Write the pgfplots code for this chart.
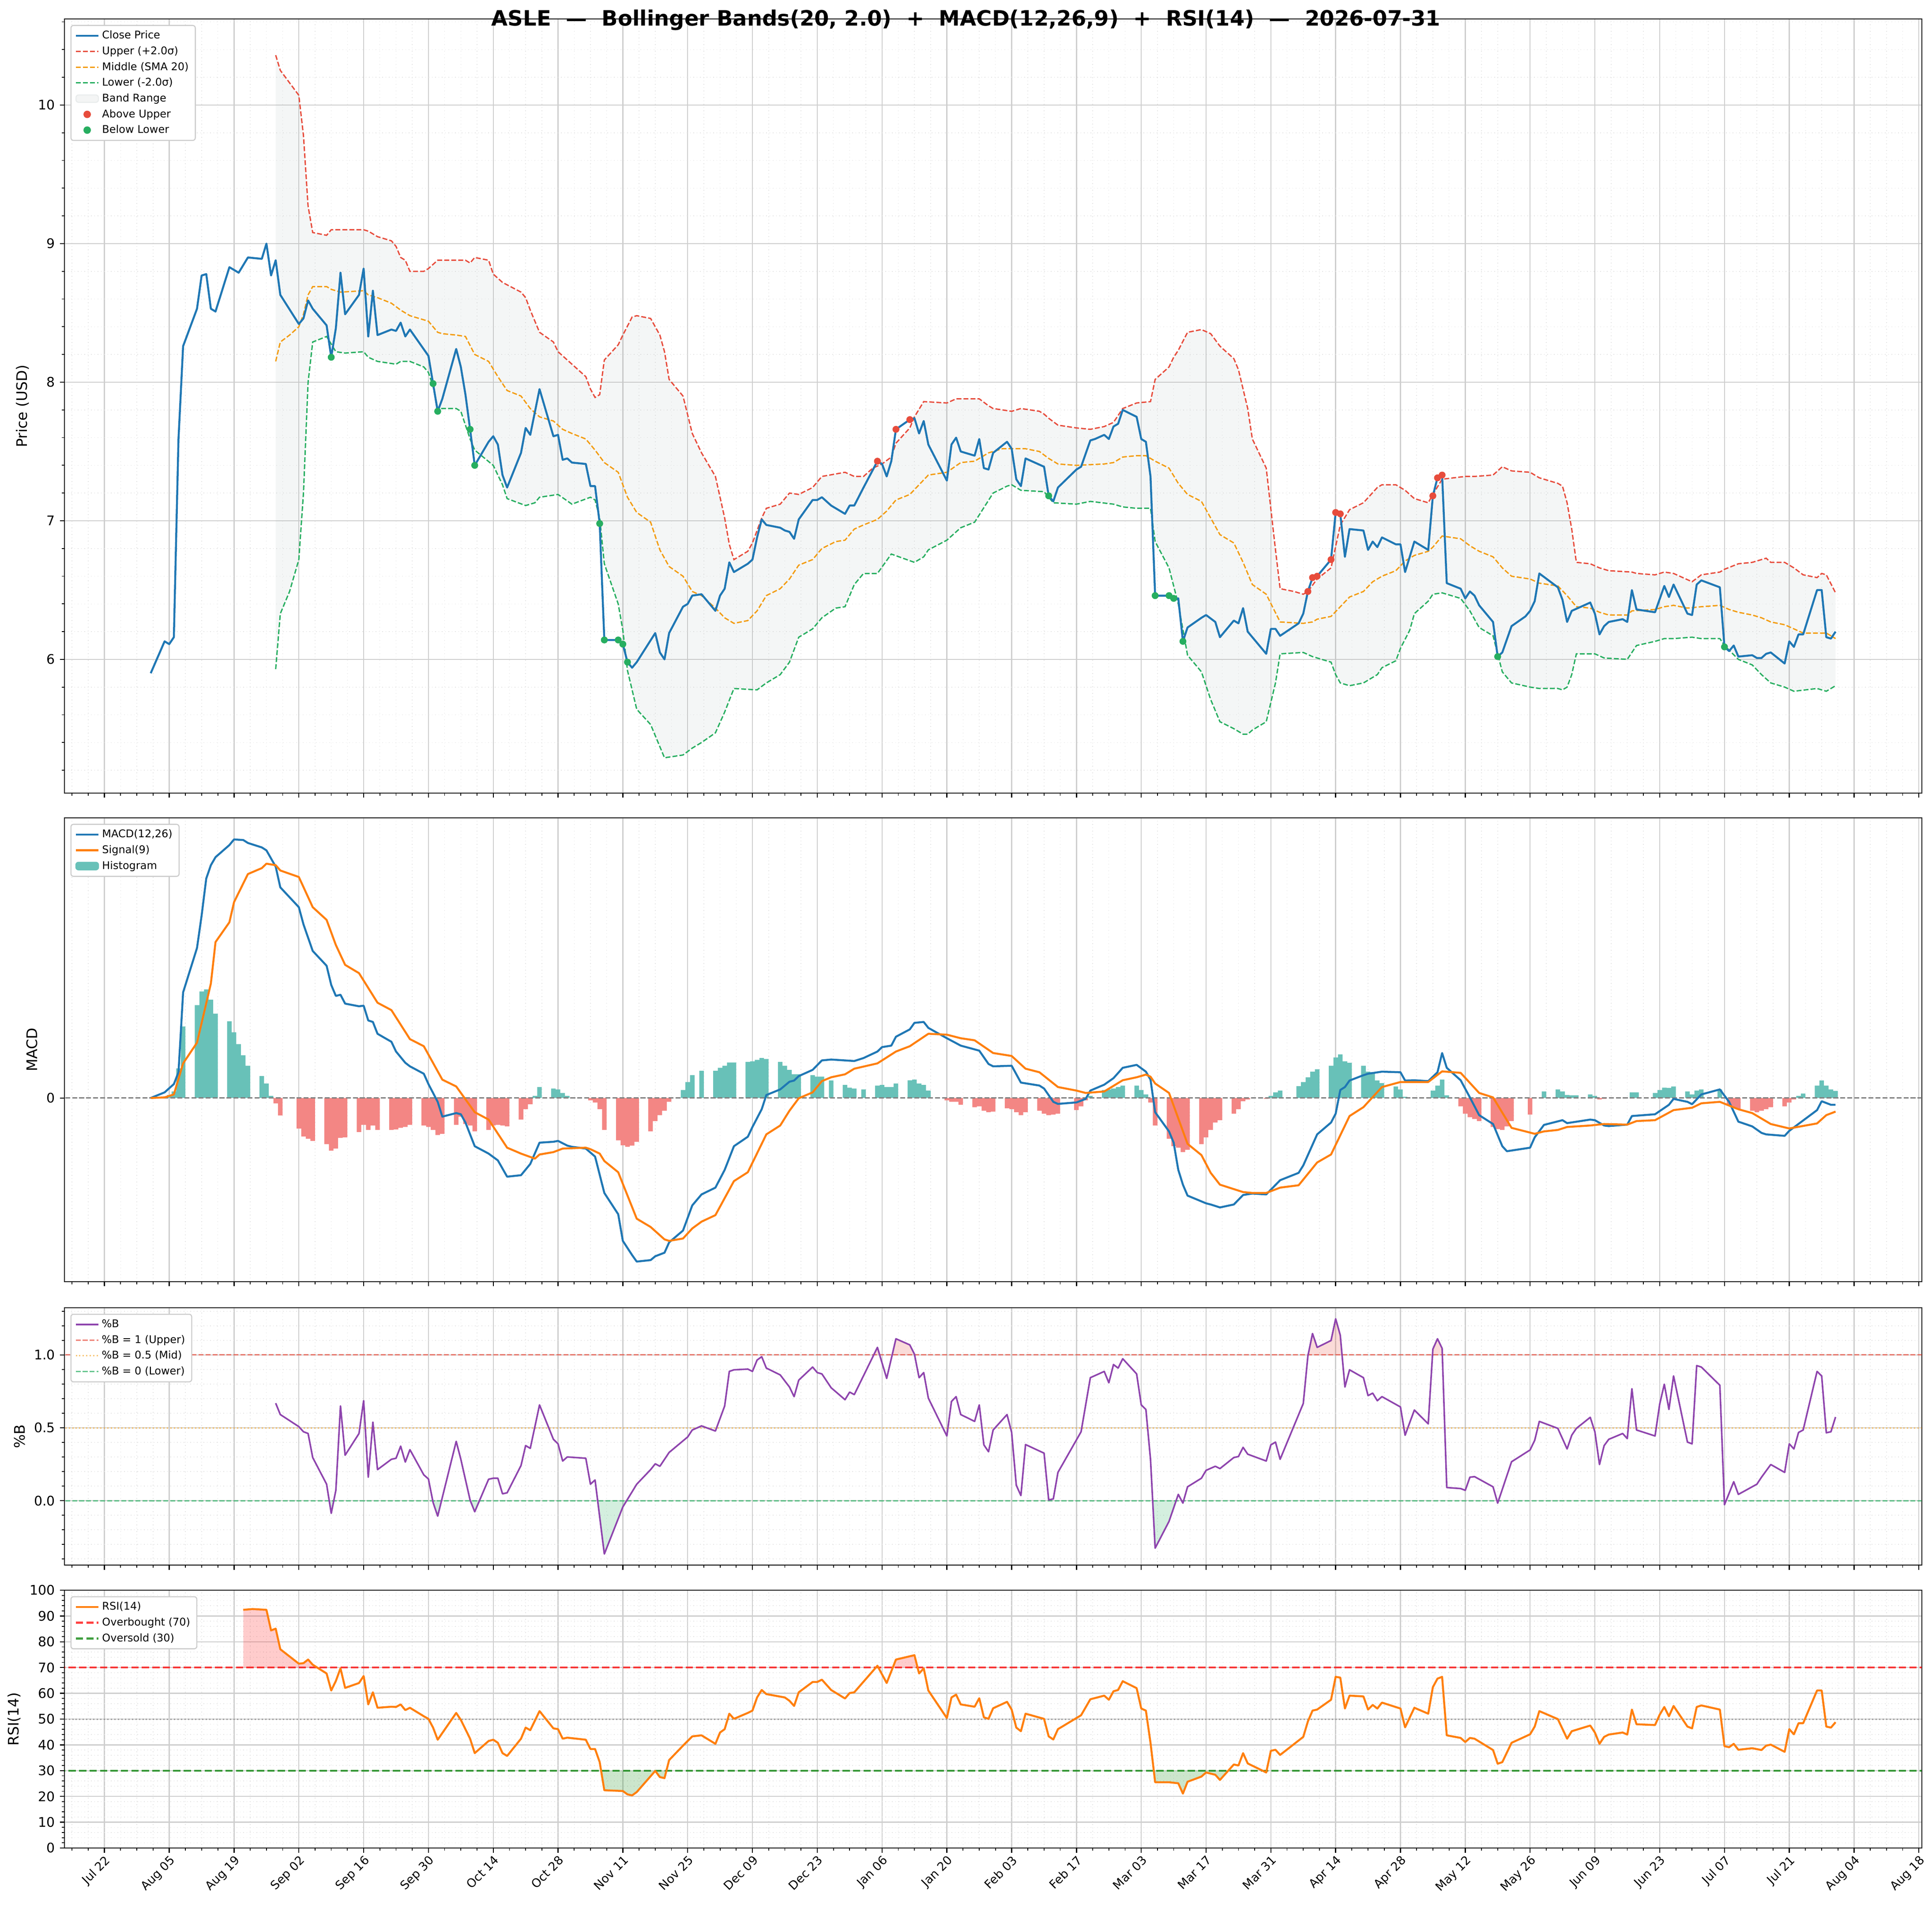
\documentclass[border=0pt]{standalone}
\usepackage{fontspec}
\setmainfont{DejaVu Sans}
\usepackage{pgfplots}
\usepackage{pgfplotstable}
\pgfplotsset{compat=1.18}
\usepgfplotslibrary{fillbetween}

\definecolor{cclose}{RGB}{31,119,180}
\definecolor{cupper}{RGB}{231,76,60}
\definecolor{cmid}{RGB}{243,156,18}
\definecolor{clower}{RGB}{39,174,96}
\definecolor{bandc}{RGB}{149,165,166}
\definecolor{csig}{RGB}{255,127,14}
\definecolor{chpos}{RGB}{104,193,184}
\definecolor{chneg}{RGB}{243,134,132}
\definecolor{cpb}{RGB}{142,68,173}
\definecolor{gmaj}{RGB}{206,206,206}
\definecolor{gmin}{RGB}{226,226,226}
\definecolor{legc}{RGB}{204,204,204}
\definecolor{cob}{RGB}{255,0,0}
\definecolor{cos}{RGB}{0,128,0}

\pgfplotstableread[row sep=\\]{x y\\
10 5.90\\13 6.13\\14 6.11\\15 6.16\\16 7.59\\17 8.26\\20 8.53\\21 8.77\\22 8.78\\23 8.53\\24 8.51\\27 8.83\\29 8.79\\31 8.90\\34 8.89\\35 9.00\\36 8.77\\37 8.88\\38 8.63\\42 8.42\\43 8.46\\44 8.59\\45 8.53\\48 8.41\\49 8.18\\50 8.39\\51 8.79\\52 8.49\\55 8.63\\56 8.82\\57 8.33\\58 8.66\\59 8.34\\62 8.38\\63 8.37\\64 8.43\\65 8.33\\66 8.38\\70 8.19\\71 7.99\\72 7.79\\73 7.88\\76 8.24\\77 8.11\\78 7.91\\79 7.66\\80 7.40\\83 7.57\\84 7.61\\85 7.55\\86 7.33\\87 7.24\\90 7.49\\91 7.67\\92 7.62\\94 7.95\\97 7.61\\98 7.62\\99 7.44\\100 7.45\\101 7.42\\104 7.41\\105 7.25\\106 7.25\\107 6.98\\108 6.14\\111 6.14\\112 6.11\\113 5.98\\114 5.94\\115 5.98\\119 6.19\\120 6.05\\121 6.00\\122 6.19\\125 6.38\\126 6.40\\127 6.46\\129 6.47\\132 6.35\\133 6.46\\134 6.51\\135 6.70\\136 6.63\\139 6.69\\140 6.72\\141 6.88\\142 7.01\\143 6.97\\146 6.95\\147 6.93\\148 6.92\\149 6.87\\150 7.01\\153 7.15\\154 7.15\\155 7.17\\157 7.11\\160 7.05\\161 7.11\\162 7.11\\164 7.24\\167 7.43\\168 7.41\\169 7.32\\170 7.43\\171 7.66\\174 7.73\\175 7.74\\176 7.63\\177 7.72\\178 7.55\\182 7.29\\183 7.55\\184 7.60\\185 7.50\\188 7.47\\189 7.59\\190 7.38\\191 7.37\\192 7.49\\195 7.57\\196 7.52\\197 7.30\\198 7.25\\199 7.45\\203 7.39\\204 7.18\\205 7.14\\206 7.24\\210 7.37\\211 7.39\\213 7.58\\214 7.59\\216 7.62\\217 7.59\\218 7.68\\219 7.70\\220 7.80\\223 7.75\\224 7.59\\225 7.57\\226 7.32\\227 6.46\\230 6.46\\231 6.44\\232 6.44\\233 6.13\\234 6.23\\237 6.30\\238 6.32\\240 6.27\\241 6.16\\244 6.28\\245 6.26\\246 6.37\\247 6.20\\251 6.04\\252 6.22\\253 6.22\\254 6.17\\258 6.26\\259 6.33\\260 6.49\\261 6.59\\262 6.60\\265 6.72\\266 7.06\\267 7.05\\268 6.74\\269 6.94\\272 6.93\\273 6.79\\274 6.85\\275 6.81\\276 6.88\\279 6.83\\280 6.83\\281 6.63\\283 6.85\\286 6.79\\287 7.18\\288 7.31\\289 7.33\\290 6.55\\293 6.51\\294 6.44\\295 6.49\\296 6.46\\297 6.39\\300 6.27\\301 6.02\\302 6.05\\304 6.24\\307 6.31\\308 6.35\\309 6.42\\310 6.62\\314 6.52\\315 6.43\\316 6.27\\317 6.35\\321 6.41\\322 6.33\\323 6.18\\324 6.24\\325 6.27\\328 6.29\\329 6.27\\330 6.50\\331 6.36\\335 6.34\\337 6.53\\338 6.45\\339 6.54\\342 6.33\\343 6.32\\344 6.54\\345 6.57\\349 6.52\\350 6.09\\351 6.06\\352 6.10\\353 6.02\\356 6.03\\357 6.01\\358 6.01\\359 6.04\\360 6.05\\363 5.97\\364 6.13\\365 6.09\\366 6.18\\367 6.18\\370 6.50\\371 6.50\\372 6.16\\373 6.15\\374 6.20\\
}\tclose

\pgfplotstableread[row sep=\\]{x y\\
37 10.36\\38 10.25\\40 10.16\\42 10.07\\43 9.78\\44 9.27\\45 9.08\\48 9.06\\49 9.10\\56 9.10\\57 9.09\\59 9.05\\62 9.02\\63 8.98\\64 8.90\\65 8.88\\66 8.80\\69 8.80\\70 8.82\\72 8.88\\76 8.88\\78 8.88\\79 8.86\\80 8.90\\83 8.88\\84 8.78\\86 8.72\\90 8.65\\91 8.61\\92 8.52\\94 8.36\\97 8.29\\98 8.22\\100 8.16\\101 8.13\\104 8.04\\105 7.95\\106 7.89\\107 7.91\\108 8.16\\111 8.27\\112 8.34\\114 8.47\\115 8.48\\118 8.46\\120 8.34\\121 8.22\\122 8.02\\125 7.90\\127 7.63\\129 7.49\\132 7.32\\134 7.02\\135 6.83\\136 6.72\\139 6.78\\140 6.84\\142 7.02\\143 7.09\\146 7.12\\148 7.20\\150 7.19\\153 7.24\\155 7.32\\160 7.35\\162 7.32\\164 7.32\\166 7.38\\168 7.41\\170 7.46\\171 7.56\\174 7.67\\175 7.75\\177 7.86\\182 7.85\\184 7.88\\189 7.88\\191 7.83\\192 7.81\\196 7.79\\198 7.81\\202 7.79\\203 7.77\\204 7.74\\206 7.69\\210 7.67\\213 7.66\\216 7.68\\218 7.71\\220 7.81\\223 7.85\\226 7.86\\227 8.02\\230 8.11\\231 8.18\\232 8.23\\234 8.36\\237 8.38\\239 8.35\\241 8.26\\244 8.17\\245 8.09\\247 7.81\\248 7.59\\251 7.38\\253 6.79\\254 6.51\\257 6.49\\259 6.47\\260 6.49\\262 6.58\\265 6.66\\267 6.97\\269 7.08\\272 7.13\\275 7.24\\276 7.26\\279 7.26\\281 7.22\\283 7.16\\286 7.13\\287 7.19\\289 7.30\\294 7.32\\296 7.32\\300 7.33\\302 7.39\\304 7.36\\308 7.35\\310 7.31\\314 7.27\\315 7.25\\316 7.13\\317 6.94\\318 6.70\\321 6.69\\323 6.66\\325 6.64\\330 6.63\\331 6.62\\335 6.61\\337 6.63\\339 6.62\\343 6.56\\345 6.61\\349 6.63\\350 6.65\\353 6.69\\356 6.70\\359 6.73\\360 6.70\\363 6.70\\365 6.66\\367 6.61\\370 6.59\\371 6.62\\372 6.61\\374 6.48\\
}\tupper

\pgfplotstableread[row sep=\\]{x y\\
37 8.15\\38 8.29\\40 8.34\\42 8.40\\43 8.49\\44 8.63\\45 8.69\\48 8.69\\49 8.67\\51 8.65\\56 8.66\\57 8.63\\59 8.61\\62 8.57\\64 8.52\\66 8.48\\70 8.44\\72 8.36\\73 8.35\\76 8.34\\78 8.33\\80 8.20\\83 8.15\\85 8.04\\87 7.94\\90 7.90\\92 7.81\\94 7.75\\97 7.72\\99 7.66\\101 7.63\\104 7.59\\106 7.51\\108 7.42\\111 7.35\\113 7.17\\115 7.06\\118 6.99\\120 6.79\\122 6.67\\125 6.60\\127 6.49\\129 6.46\\132 6.37\\134 6.30\\136 6.26\\139 6.28\\141 6.35\\143 6.46\\146 6.51\\148 6.58\\150 6.68\\153 6.72\\155 6.80\\158 6.85\\160 6.86\\162 6.94\\164 6.97\\167 7.01\\169 7.07\\171 7.15\\174 7.19\\176 7.26\\178 7.33\\182 7.35\\185 7.42\\188 7.43\\191 7.49\\194 7.52\\196 7.52\\199 7.52\\202 7.50\\204 7.45\\206 7.41\\210 7.40\\216 7.41\\218 7.42\\220 7.46\\223 7.47\\225 7.47\\227 7.43\\230 7.38\\232 7.27\\234 7.19\\237 7.14\\239 7.02\\241 6.90\\244 6.84\\246 6.70\\248 6.54\\251 6.47\\254 6.27\\259 6.26\\261 6.27\\262 6.29\\265 6.31\\267 6.38\\269 6.45\\272 6.49\\274 6.56\\276 6.60\\279 6.64\\281 6.71\\283 6.75\\286 6.78\\287 6.81\\289 6.89\\293 6.87\\295 6.82\\297 6.78\\300 6.74\\302 6.66\\304 6.60\\308 6.58\\310 6.55\\314 6.53\\316 6.46\\318 6.38\\321 6.37\\323 6.34\\325 6.32\\329 6.32\\330 6.35\\335 6.36\\337 6.38\\339 6.39\\342 6.37\\345 6.38\\349 6.39\\351 6.36\\353 6.34\\356 6.32\\358 6.30\\360 6.27\\363 6.25\\365 6.22\\367 6.19\\370 6.19\\372 6.19\\374 6.15\\
}\tmid

\pgfplotstableread[row sep=\\]{x y\\
37 5.93\\38 6.33\\40 6.49\\42 6.72\\43 7.20\\44 8.00\\45 8.29\\48 8.33\\50 8.22\\52 8.21\\56 8.22\\57 8.18\\59 8.15\\63 8.13\\64 8.15\\66 8.15\\69 8.11\\70 8.07\\71 7.97\\72 7.81\\76 7.81\\77 7.79\\79 7.59\\80 7.51\\84 7.40\\86 7.26\\87 7.16\\91 7.11\\93 7.13\\94 7.17\\98 7.19\\101 7.12\\105 7.17\\106 7.15\\107 7.02\\108 6.69\\111 6.40\\112 6.21\\113 5.92\\115 5.64\\118 5.53\\120 5.37\\121 5.29\\125 5.31\\127 5.36\\129 5.40\\132 5.47\\134 5.62\\136 5.79\\141 5.78\\143 5.83\\146 5.89\\148 5.98\\150 6.16\\153 6.22\\155 6.30\\158 6.37\\160 6.38\\162 6.54\\164 6.62\\167 6.62\\170 6.76\\175 6.70\\177 6.74\\178 6.79\\182 6.86\\185 6.95\\188 6.99\\192 7.20\\195 7.25\\196 7.26\\198 7.22\\203 7.21\\205 7.13\\210 7.12\\213 7.14\\218 7.12\\220 7.10\\223 7.09\\226 7.09\\227 6.85\\230 6.66\\232 6.40\\234 6.03\\237 5.91\\239 5.71\\241 5.55\\244 5.50\\246 5.46\\247 5.46\\248 5.49\\251 5.55\\253 5.83\\254 6.04\\259 6.05\\261 6.02\\265 5.98\\266 5.89\\267 5.83\\269 5.81\\272 5.83\\275 5.89\\276 5.94\\279 5.99\\280 6.08\\282 6.21\\283 6.33\\286 6.42\\287 6.47\\289 6.48\\293 6.44\\295 6.35\\297 6.23\\300 6.17\\302 5.91\\304 5.83\\308 5.80\\310 5.79\\314 5.79\\315 5.78\\316 5.80\\317 5.89\\318 6.04\\322 6.04\\324 6.01\\329 6.00\\331 6.10\\335 6.13\\337 6.15\\339 6.15\\343 6.16\\345 6.15\\349 6.15\\350 6.10\\353 6.00\\356 5.96\\358 5.89\\360 5.83\\363 5.80\\365 5.77\\370 5.79\\372 5.77\\374 5.81\\
}\tlower

\pgfplotstableread[row sep=\\]{x y\\
167 7.43\\171 7.66\\174 7.73\\260 6.49\\261 6.59\\262 6.60\\265 6.72\\266 7.06\\267 7.05\\287 7.18\\288 7.31\\289 7.33\\
}\tabove

\pgfplotstableread[row sep=\\]{x y\\
49 8.18\\71 7.99\\72 7.79\\79 7.66\\80 7.40\\107 6.98\\108 6.14\\111 6.14\\112 6.11\\113 5.98\\204 7.18\\227 6.46\\230 6.46\\231 6.44\\233 6.13\\301 6.02\\350 6.09\\
}\tbelow

\pgfplotstableread[row sep=\\]{x y\\
10 0\\13 0.0095\\15 0.0235\\16 0.0435\\17 0.1785\\20 0.2535\\21 0.3085\\22 0.371\\23 0.3935\\24 0.407\\27 0.4275\\28 0.437\\30 0.436\\31 0.431\\34 0.4235\\35 0.4185\\37 0.391\\38 0.356\\42 0.3225\\43 0.2935\\45 0.2485\\48 0.2235\\49 0.191\\50 0.1725\\51 0.1745\\52 0.1595\\55 0.155\\56 0.156\\57 0.131\\58 0.1285\\59 0.1085\\62 0.095\\63 0.0785\\65 0.0595\\66 0.0535\\69 0.041\\70 0.0235\\72 -0.0065\\73 -0.0315\\76 -0.0255\\77 -0.0275\\78 -0.0415\\80 -0.0815\\83 -0.094\\85 -0.1055\\87 -0.133\\90 -0.1305\\92 -0.1115\\94 -0.0755\\97 -0.074\\98 -0.0725\\100 -0.0805\\101 -0.0825\\104 -0.0855\\106 -0.099\\108 -0.1605\\111 -0.1965\\112 -0.2415\\114 -0.2655\\115 -0.2765\\118 -0.274\\119 -0.2675\\121 -0.2615\\122 -0.244\\125 -0.224\\127 -0.1815\\129 -0.163\\132 -0.1515\\134 -0.1215\\136 -0.0815\\139 -0.0655\\140 -0.049\\142 -0.019\\143 0.005\\146 0.0145\\148 0.0275\\149 0.0295\\150 0.037\\153 0.0475\\155 0.0635\\157 0.065\\162 0.0625\\164 0.0675\\167 0.0785\\168 0.086\\170 0.0885\\171 0.1035\\174 0.116\\175 0.127\\177 0.1285\\178 0.1185\\182 0.101\\185 0.0885\\189 0.08\\191 0.0575\\192 0.0535\\196 0.0545\\198 0.026\\202 0.021\\203 0.016\\205 -0.0065\\206 -0.01\\210 -0.0075\\212 -0.0015\\213 0.0125\\216 0.0225\\218 0.0335\\220 0.051\\223 0.056\\225 0.0445\\226 0.031\\227 -0.024\\230 -0.0565\\231 -0.0755\\232 -0.1215\\233 -0.1465\\234 -0.165\\238 -0.178\\239 -0.18\\241 -0.185\\244 -0.18\\246 -0.164\\248 -0.1615\\251 -0.163\\254 -0.139\\258 -0.1265\\259 -0.114\\262 -0.0615\\265 -0.0415\\266 -0.0265\\267 0.0135\\268 0.0185\\269 0.0295\\272 0.0385\\273 0.041\\276 0.0445\\280 0.0435\\281 0.0295\\283 0.03\\286 0.0285\\288 0.0435\\289 0.076\\290 0.051\\293 0.03\\295 0.001\\297 -0.029\\300 -0.044\\302 -0.0815\\303 -0.09\\308 -0.084\\309 -0.0665\\311 -0.0455\\315 -0.0375\\316 -0.0425\\321 -0.0365\\322 -0.0375\\324 -0.0465\\325 -0.0475\\329 -0.045\\330 -0.0305\\335 -0.0275\\338 -0.0115\\339 -0.0015\\342 -0.0065\\343 -0.0105\\345 0.006\\349 0.0145\\351 -0.0065\\353 -0.04\\356 -0.048\\358 -0.059\\359 -0.0615\\363 -0.064\\364 -0.0555\\370 -0.0205\\371 -0.0055\\373 -0.0115\\374 -0.0115\\
}\tmacd

\pgfplotstableread[row sep=\\]{x y\\
10 0\\13 0.001\\15 0.006\\17 0.0585\\20 0.0935\\23 0.1935\\24 0.2635\\27 0.297\\28 0.331\\31 0.3785\\34 0.3885\\35 0.396\\37 0.3935\\38 0.3845\\42 0.3735\\45 0.3225\\48 0.301\\50 0.2585\\52 0.225\\55 0.211\\59 0.161\\62 0.1485\\66 0.0995\\69 0.0875\\73 0.031\\76 0.0195\\80 -0.024\\83 -0.0365\\87 -0.084\\90 -0.094\\93 -0.1025\\94 -0.0955\\97 -0.0915\\99 -0.0855\\104 -0.084\\105 -0.0865\\107 -0.094\\108 -0.1065\\111 -0.1255\\115 -0.204\\118 -0.218\\121 -0.239\\122 -0.2415\\125 -0.2375\\127 -0.2205\\129 -0.209\\132 -0.198\\136 -0.1405\\139 -0.1255\\143 -0.0615\\146 -0.0465\\148 -0.0215\\150 -0.0005\\153 0.0095\\155 0.0285\\157 0.035\\160 0.04\\162 0.0495\\167 0.0585\\171 0.0785\\174 0.0875\\178 0.1085\\182 0.107\\185 0.101\\188 0.0975\\192 0.076\\196 0.071\\199 0.0495\\202 0.0435\\206 0.0185\\210 0.0125\\212 0.0085\\216 0.011\\220 0.03\\223 0.035\\225 0.0395\\226 0.036\\227 0.0245\\230 0.0085\\234 -0.0775\\237 -0.0965\\239 -0.1265\\241 -0.1465\\244 -0.154\\246 -0.159\\248 -0.1605\\251 -0.1605\\254 -0.1515\\258 -0.1475\\262 -0.109\\265 -0.0955\\269 -0.0305\\272 -0.0155\\276 0.0185\\280 0.027\\286 0.027\\289 0.045\\293 0.0425\\297 0.0085\\300 0.001\\304 -0.0505\\309 -0.0605\\311 -0.0565\\314 -0.054\\316 -0.049\\321 -0.0465\\324 -0.044\\329 -0.045\\331 -0.039\\335 -0.0375\\339 -0.0205\\343 -0.0165\\345 -0.009\\349 -0.0065\\353 -0.019\\356 -0.0255\\360 -0.044\\364 -0.0515\\370 -0.043\\372 -0.029\\374 -0.023\\
}\tsig

\pgfplotstableread[row sep=\\]{x y\\
13 0.002\\14 0.005\\15 0.011\\16 0.05\\17 0.121\\20 0.157\\21 0.18\\22 0.1835\\23 0.166\\24 0.1425\\27 0.1295\\28 0.111\\29 0.091\\30 0.072\\31 0.0545\\34 0.037\\35 0.0245\\36 0.0035\\93 0.0035\\94 0.0185\\97 0.016\\98 0.0145\\99 0.0085\\100 0.0035\\125 0.0135\\126 0.027\\127 0.0385\\129 0.046\\132 0.046\\133 0.051\\134 0.0545\\135 0.06\\136 0.06\\139 0.061\\140 0.062\\141 0.0645\\142 0.0675\\143 0.066\\146 0.061\\147 0.0545\\148 0.0475\\149 0.04\\150 0.04\\153 0.0385\\154 0.036\\155 0.036\\157 0.0295\\160 0.022\\161 0.0175\\162 0.016\\164 0.0145\\167 0.021\\168 0.022\\169 0.0185\\170 0.0185\\171 0.0245\\174 0.03\\175 0.031\\176 0.0245\\177 0.022\\178 0.0125\\213 0.0035\\216 0.0135\\217 0.0145\\218 0.016\\219 0.0185\\220 0.021\\223 0.021\\224 0.0135\\225 0.006\\252 0.0035\\253 0.0095\\254 0.0125\\258 0.02\\259 0.027\\260 0.035\\261 0.0445\\262 0.0485\\265 0.0545\\266 0.0685\\267 0.0735\\268 0.062\\269 0.0595\\272 0.0545\\273 0.0445\\274 0.0435\\275 0.0295\\276 0.025\\279 0.0195\\280 0.0145\\281 0.002\\287 0.0125\\288 0.021\\289 0.031\\290 0.0045\\311 0.011\\314 0.0145\\315 0.011\\316 0.005\\317 0.0045\\318 0.0045\\321 0.006\\322 0.0035\\330 0.0095\\331 0.0095\\335 0.0085\\336 0.0135\\337 0.0175\\338 0.017\\339 0.0195\\342 0.011\\343 0.006\\344 0.0125\\345 0.0145\\349 0.0145\\350 0.001\\366 0.0035\\367 0.0075\\370 0.021\\371 0.0295\\372 0.021\\373 0.0145\\374 0.012\\
}\thpos

\pgfplotstableread[row sep=\\]{x y\\
37 -0.009\\38 -0.0295\\42 -0.0515\\43 -0.065\\44 -0.069\\45 -0.0725\\48 -0.078\\49 -0.089\\50 -0.0855\\51 -0.0675\\52 -0.0665\\55 -0.0575\\56 -0.0455\\57 -0.054\\58 -0.0465\\59 -0.054\\62 -0.054\\63 -0.053\\64 -0.0505\\65 -0.049\\66 -0.0455\\69 -0.0465\\70 -0.049\\71 -0.054\\72 -0.0625\\73 -0.0605\\76 -0.0455\\77 -0.0315\\78 -0.044\\79 -0.0465\\80 -0.0565\\83 -0.054\\84 -0.0465\\85 -0.0455\\86 -0.0465\\87 -0.048\\90 -0.0365\\91 -0.019\\92 -0.0105\\105 -0.004\\106 -0.0075\\107 -0.019\\108 -0.054\\111 -0.0715\\112 -0.08\\113 -0.0825\\114 -0.0805\\115 -0.074\\118 -0.0565\\119 -0.039\\120 -0.029\\121 -0.0215\\122 -0.0065\\182 -0.004\\183 -0.0065\\184 -0.0065\\185 -0.0115\\188 -0.0155\\189 -0.014\\190 -0.0215\\191 -0.024\\192 -0.023\\195 -0.0175\\196 -0.019\\197 -0.024\\198 -0.029\\199 -0.024\\202 -0.0215\\203 -0.0265\\204 -0.029\\205 -0.028\\206 -0.0265\\210 -0.0205\\211 -0.014\\212 -0.004\\226 -0.0075\\227 -0.0465\\230 -0.069\\231 -0.0815\\232 -0.084\\233 -0.0915\\234 -0.0875\\237 -0.078\\238 -0.0665\\239 -0.054\\240 -0.0415\\241 -0.0375\\244 -0.0265\\245 -0.019\\246 -0.0055\\247 -0.0025\\251 -0.0015\\293 -0.014\\294 -0.0265\\295 -0.0325\\296 -0.0355\\297 -0.039\\300 -0.049\\301 -0.0525\\302 -0.054\\303 -0.048\\304 -0.039\\308 -0.028\\309 -0.0005\\323 -0.0025\\324 -0.0015\\351 -0.0115\\352 -0.0165\\353 -0.019\\356 -0.0215\\357 -0.024\\358 -0.0215\\359 -0.019\\360 -0.0155\\363 -0.014\\364 -0.0075\\365 -0.0025\\
}\thneg

\pgfplotstableread[row sep=\\]{x y\\
37 0.669\\38 0.591\\42 0.508\\43 0.473\\44 0.461\\45 0.296\\48 0.113\\49 -0.087\\50 0.071\\51 0.650\\52 0.312\\55 0.461\\56 0.686\\57 0.161\\58 0.539\\59 0.213\\62 0.284\\63 0.291\\64 0.374\\65 0.265\\66 0.350\\69 0.177\\70 0.149\\71 -0.012\\72 -0.106\\76 0.407\\77 0.284\\79 0.004\\80 -0.076\\83 0.147\\84 0.154\\85 0.154\\86 0.047\\87 0.054\\90 0.241\\91 0.378\\92 0.359\\94 0.657\\97 0.421\\98 0.390\\99 0.272\\100 0.300\\104 0.291\\105 0.113\\106 0.142\\108 -0.366\\112 -0.043\\115 0.113\\118 0.213\\119 0.253\\120 0.236\\122 0.331\\126 0.437\\127 0.485\\129 0.513\\132 0.478\\134 0.650\\135 0.887\\136 0.898\\139 0.903\\140 0.887\\141 0.965\\142 0.988\\143 0.910\\146 0.863\\148 0.780\\149 0.714\\150 0.827\\153 0.917\\154 0.879\\155 0.870\\157 0.775\\160 0.693\\161 0.745\\162 0.728\\167 1.052\\169 0.839\\171 1.111\\174 1.069\\175 1.005\\176 0.844\\177 0.879\\178 0.704\\182 0.444\\183 0.681\\184 0.714\\185 0.591\\188 0.544\\189 0.657\\190 0.383\\191 0.336\\192 0.485\\195 0.591\\196 0.468\\197 0.106\\198 0.035\\199 0.385\\203 0.326\\204 0.005\\205 0.012\\206 0.194\\211 0.473\\213 0.844\\216 0.887\\217 0.809\\218 0.934\\219 0.910\\220 0.974\\223 0.870\\224 0.657\\225 0.626\\226 0.284\\227 -0.326\\230 -0.142\\232 0.043\\233 -0.017\\234 0.095\\237 0.154\\238 0.208\\240 0.236\\241 0.220\\244 0.296\\245 0.303\\246 0.366\\247 0.319\\251 0.272\\252 0.383\\253 0.402\\254 0.284\\259 0.667\\260 0.993\\261 1.147\\262 1.052\\265 1.099\\266 1.248\\267 1.135\\268 0.780\\269 0.898\\272 0.844\\273 0.721\\274 0.738\\275 0.686\\276 0.714\\280 0.643\\281 0.449\\283 0.622\\286 0.527\\287 1.040\\288 1.111\\289 1.045\\290 0.090\\293 0.083\\294 0.071\\295 0.161\\296 0.165\\300 0.095\\301 -0.017\\304 0.267\\308 0.348\\309 0.414\\310 0.544\\314 0.496\\316 0.355\\317 0.449\\318 0.496\\321 0.572\\322 0.473\\323 0.248\\324 0.378\\325 0.421\\328 0.461\\329 0.426\\330 0.768\\331 0.485\\335 0.444\\336 0.662\\337 0.799\\338 0.626\\339 0.856\\342 0.402\\343 0.390\\344 0.927\\345 0.917\\349 0.792\\350 -0.028\\352 0.130\\353 0.043\\357 0.113\\358 0.161\\360 0.248\\363 0.194\\364 0.390\\365 0.355\\366 0.468\\367 0.485\\370 0.887\\371 0.856\\372 0.466\\373 0.473\\374 0.574\\
}\tpb

\pgfplotstableread[row sep=\\]{x y\\
30 92.4\\32 92.7\\35 92.4\\36 84.4\\37 85.1\\38 77.1\\42 71.5\\43 71.7\\44 73.1\\45 71.1\\48 67.7\\49 61.1\\50 64.8\\51 69.7\\52 62.1\\55 64.0\\56 66.7\\57 55.7\\58 60.4\\59 54.4\\62 54.8\\63 54.7\\64 55.7\\65 53.5\\66 54.4\\69 51.1\\70 50.1\\71 46.7\\72 42.0\\76 52.4\\77 49.7\\79 42.4\\80 36.8\\83 41.5\\84 42.0\\85 40.8\\86 36.8\\87 35.7\\90 42.4\\91 46.7\\92 45.7\\94 53.1\\97 46.4\\98 46.1\\99 42.4\\100 42.8\\104 42.0\\105 38.4\\106 38.4\\107 33.3\\108 22.4\\112 22.1\\113 20.8\\114 20.4\\115 21.7\\119 29.9\\120 27.5\\121 27.1\\122 34.1\\125 39.7\\127 43.3\\129 43.7\\132 40.4\\133 44.8\\134 46.1\\135 52.1\\136 50.1\\139 52.4\\140 53.3\\141 58.4\\142 61.3\\143 59.7\\147 58.4\\148 57.1\\149 55.1\\150 60.4\\153 64.4\\154 64.4\\155 65.3\\157 61.3\\160 58.0\\161 60.1\\162 60.4\\167 70.7\\169 64.0\\171 73.1\\175 74.8\\176 67.7\\177 69.7\\178 61.1\\182 50.4\\183 58.4\\184 59.5\\185 55.7\\188 54.8\\189 58.1\\190 50.7\\191 50.1\\192 54.2\\195 56.7\\196 53.7\\197 46.7\\198 45.3\\199 52.1\\203 50.1\\204 43.3\\205 42.1\\206 46.1\\211 51.5\\213 57.7\\216 59.1\\217 57.5\\218 60.8\\219 61.3\\220 64.7\\223 62.0\\224 54.1\\225 53.3\\226 40.8\\227 25.5\\230 25.5\\232 25.1\\233 21.1\\234 25.7\\237 27.7\\238 29.3\\240 28.4\\241 26.4\\244 32.4\\245 32.0\\246 36.8\\247 32.8\\251 29.3\\252 37.7\\253 38.1\\254 36.1\\259 43.1\\260 49.1\\261 53.3\\262 53.7\\265 57.5\\266 66.4\\267 66.1\\268 54.1\\269 59.1\\272 58.8\\273 53.7\\274 55.5\\275 54.1\\276 56.4\\280 54.1\\281 46.8\\283 54.4\\286 52.1\\287 62.4\\288 65.7\\289 66.4\\290 43.7\\293 42.7\\294 41.1\\295 42.7\\296 42.4\\300 38.0\\301 32.7\\302 33.3\\304 40.8\\308 44.1\\309 47.1\\310 53.1\\314 50.0\\316 42.4\\317 45.3\\321 47.5\\322 44.8\\323 40.4\\324 43.1\\325 44.0\\328 44.8\\329 44.0\\330 53.7\\331 48.0\\335 47.7\\336 51.7\\337 54.7\\338 51.1\\339 55.1\\342 47.1\\343 46.4\\344 54.7\\345 55.3\\349 53.7\\350 39.5\\351 39.1\\352 40.4\\353 38.1\\356 38.7\\358 38.0\\359 39.7\\360 40.1\\363 37.3\\364 46.1\\365 44.1\\366 48.4\\367 48.4\\370 61.1\\371 61.1\\372 47.1\\373 46.7\\374 48.8\\
}\trsi

\pgfplotsset{
  /pgf/number format/assume math mode=true,
  panel/.style={
    scale only axis, width=1403pt, anchor=south west,
    xmin=-8.64, xmax=392.64,
    xtick={0,14,...,392},
    minor xtick={-7,-3.5,...,392},
    tick pos=left, tick align=outside,
    major tick length=3.5pt, minor tick length=2pt,
    tick style={black, line width=0.8pt},
    minor tick style={line width=0.6pt},
    axis line style={line width=0.8pt},
    tick label style={font=\fontsize{10}{12}\selectfont},
    label style={font=\fontsize{11}{13}\selectfont},
    major grid style={draw=gmaj, line width=0.8pt},
    minor grid style={draw=gmin, line width=0.5pt, dotted},
    legend cell align=left,
    legend style={at={(0,1)}, anchor=north west, xshift=4.5pt, yshift=-4.5pt,
      font=\fontsize{8}{9.6}\selectfont, draw=legc, line width=0.8pt,
      rounded corners=2pt, fill=white, inner xsep=3pt, inner ysep=2pt,
      row sep=0.3pt},
  },
  dsh/.style={dash pattern=on 3.7pt off 1.6pt},
}

\begin{document}
\begin{tikzpicture}
\path (0,0) rectangle (1459.33pt,1440.67pt);

% ---------- Panel 1: price + Bollinger ----------
\begin{axis}[panel, at={(48.67pt,841.67pt)}, height=584.67pt,
  ymin=5.035, ymax=10.621, ytick={6,7,8,9,10}, minor ytick={5.2,5.4,...,10.6},
  grid=both, xticklabels={}, ylabel={Price (USD)}]
\addlegendimage{line width=1.5pt, color=cclose}
\addlegendentry{Close Price}
\addlegendimage{line width=1pt, color=cupper, dsh}
\addlegendentry{Upper (+2.0σ)}
\addlegendimage{line width=1pt, color=cmid, dsh}
\addlegendentry{Middle (SMA 20)}
\addlegendimage{line width=1pt, color=clower, dsh}
\addlegendentry{Lower (-2.0σ)}
\addlegendimage{area legend, fill=bandc, fill opacity=0.1, draw=bandc, draw opacity=0.15}
\addlegendentry{Band Range}
\addlegendimage{only marks, mark=*, mark size=2.4pt, color=cupper}
\addlegendentry{Above Upper}
\addlegendimage{only marks, mark=*, mark size=2.4pt, color=clower}
\addlegendentry{Below Lower}
\addplot[name path=UU, draw=none, forget plot] table {\tupper};
\addplot[name path=LL, draw=none, forget plot] table {\tlower};
\addplot[fill=bandc, fill opacity=0.1, draw=none, forget plot] fill between[of=UU and LL];
\addplot[cupper, line width=1pt, dsh, forget plot] table {\tupper};
\addplot[cmid, line width=1pt, dsh, forget plot] table {\tmid};
\addplot[clower, line width=1pt, dsh, forget plot] table {\tlower};
\addplot[cclose, line width=1.5pt, line join=round, forget plot] table {\tclose};
\addplot[only marks, mark=*, mark size=2.4pt, color=cupper, forget plot] table {\tabove};
\addplot[only marks, mark=*, mark size=2.4pt, color=clower, forget plot] table {\tbelow};
\end{axis}

% ---------- Panel 2: MACD ----------
\begin{axis}[panel, at={(48.67pt,472.67pt)}, height=350.33pt,
  ymin=-0.3105, ymax=0.4735, ytick={0}, yticklabels={0},
  xmajorgrids, xminorgrids, xticklabels={}, ylabel={MACD}]
\addlegendimage{line width=1.5pt, color=cclose}
\addlegendentry{MACD(12,26)}
\addlegendimage{line width=1.5pt, color=csig}
\addlegendentry{Signal(9)}
\addlegendimage{area legend, fill=chpos, draw=chpos}
\addlegendentry{Histogram}
\addplot[ybar, bar width=0.98, bar shift=0pt, fill=chpos, draw=none, forget plot] table {\thpos};
\addplot[ybar, bar width=0.98, bar shift=0pt, fill=chneg, draw=none, forget plot] table {\thneg};
\addplot[gray, line width=1pt, dsh, forget plot] coordinates {(-10,0) (400,0)};
\addplot[cclose, line width=1.5pt, line join=round, forget plot] table {\tmacd};
\addplot[csig, line width=1.5pt, line join=round, forget plot] table {\tsig};
\end{axis}

% ---------- Panel 3: %B ----------
\begin{axis}[panel, at={(48.67pt,258.67pt)}, height=194.33pt,
  ymin=-0.442, ymax=1.324, ytick={0,0.5,1}, yticklabels={0.0,0.5,1.0},
  minor ytick={-0.4,-0.3,...,1.3},
  grid=both, xticklabels={}, ylabel={\%B}]
\addlegendimage{line width=1.2pt, color=cpb}
\addlegendentry{\%B}
\addlegendimage{line width=1pt, color=cupper, opacity=0.7, dsh}
\addlegendentry{\%B = 1 (Upper)}
\addlegendimage{line width=1pt, color=cmid, opacity=0.6, dash pattern=on 1pt off 1.65pt}
\addlegendentry{\%B = 0.5 (Mid)}
\addlegendimage{line width=1pt, color=clower, opacity=0.7, dsh}
\addlegendentry{\%B = 0 (Lower)}
\addplot[name path=PB, draw=none, forget plot] table {\tpb};
\addplot[name path=P1, draw=none, forget plot] coordinates {(37,1) (374,1)};
\addplot[name path=P0, draw=none, forget plot] coordinates {(37,0) (374,0)};
\addplot[fill=cupper, fill opacity=0.2, draw=none, forget plot] fill between[of=PB and P1, split, every even segment/.style={fill opacity=0}];
\addplot[fill=clower, fill opacity=0.2, draw=none, forget plot] fill between[of=PB and P0, split, every even segment/.style={fill opacity=0}];
\addplot[cupper, opacity=0.7, line width=1pt, dsh, forget plot] coordinates {(-10,1) (400,1)};
\addplot[cmid, opacity=0.6, line width=1pt, dash pattern=on 1pt off 1.65pt, forget plot] coordinates {(-10,0.5) (400,0.5)};
\addplot[clower, opacity=0.7, line width=1pt, dsh, forget plot] coordinates {(-10,0) (400,0)};
\addplot[cpb, line width=1.2pt, line join=round, forget plot] table {\tpb};
\end{axis}

% ---------- Panel 4: RSI ----------
\begin{axis}[panel, at={(48.67pt,45pt)}, height=194.67pt,
  ymin=0, ymax=100, ytick={0,10,...,100}, minor ytick={2,4,...,98},
  grid=both, ylabel={RSI(14)},
  xticklabels={Jul 22,Aug 05,Aug 19,Sep 02,Sep 16,Sep 30,Oct 14,Oct 28,Nov 11,Nov 25,Dec 09,Dec 23,Jan 06,Jan 20,Feb 03,Feb 17,Mar 03,Mar 17,Mar 31,Apr 14,Apr 28,May 12,May 26,Jun 09,Jun 23,Jul 07,Jul 21,Aug 04,Aug 18},
  xticklabel style={rotate=45, anchor=north east, font=\fontsize{9}{11}\selectfont, inner sep=1pt}]
\addlegendimage{line width=1.5pt, color=csig}
\addlegendentry{RSI(14)}
\addlegendimage{line width=1.5pt, color=cob, opacity=0.75, dash pattern=on 5.5pt off 2.4pt}
\addlegendentry{Overbought (70)}
\addlegendimage{line width=1.5pt, color=cos, opacity=0.75, dash pattern=on 5.5pt off 2.4pt}
\addlegendentry{Oversold (30)}
\addplot[name path=RR, draw=none, forget plot] table {\trsi};
\addplot[name path=R70, draw=none, forget plot] coordinates {(30,70) (374,70)};
\addplot[name path=R30, draw=none, forget plot] coordinates {(30,30) (374,30)};
\addplot[fill=cob, fill opacity=0.2, draw=none, forget plot] fill between[of=RR and R70, split, every odd segment/.style={fill opacity=0}];
\addplot[fill=cos, fill opacity=0.2, draw=none, forget plot] fill between[of=RR and R30, split, every even segment/.style={fill opacity=0}];
\addplot[cob, opacity=0.75, line width=1.5pt, dash pattern=on 5.5pt off 2.4pt, forget plot] coordinates {(-10,70) (400,70)};
\addplot[cos, opacity=0.75, line width=1.5pt, dash pattern=on 5.5pt off 2.4pt, forget plot] coordinates {(-10,30) (400,30)};
\addplot[gray, opacity=0.7, line width=1pt, dash pattern=on 1pt off 1.65pt, forget plot] coordinates {(-10,50) (400,50)};
\addplot[csig, line width=1.5pt, line join=round, forget plot] table {\trsi};
\end{axis}

\node[anchor=base, font=\fontsize{16}{19}\selectfont\bfseries] at (729.67pt,1421pt)
  {ASLE\ \ —\ \ Bollinger Bands(20, 2.0)\ \ +\ \ MACD(12,26,9)\ \ +\ \ RSI(14)\ \ —\ \ 2026-07-31};
\pgfresetboundingbox
\path[use as bounding box] (0,0) rectangle (1459.33pt,1440.67pt);
\end{tikzpicture}
\end{document}
